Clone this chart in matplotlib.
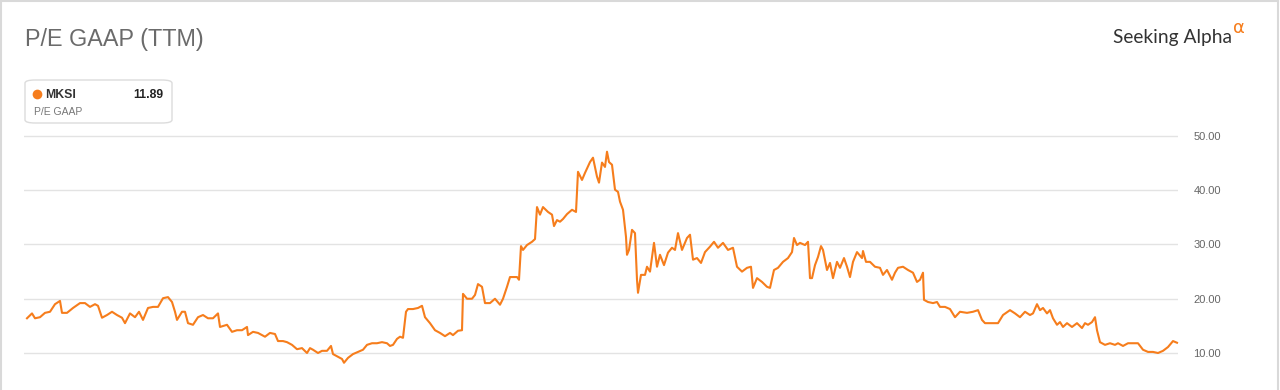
import matplotlib
matplotlib.use("Agg")
import matplotlib.pyplot as plt
from matplotlib.patches import FancyBboxPatch
from matplotlib.lines import Line2D

# ---- data ----
ticker = "MKSI"
last_value = "11.89"
title = "P/E GAAP (TTM)"
metric = "P/E GAAP"
yticks = [10, 20, 30, 40, 50]

days = [27, 32, 35, 40, 45, 50, 55, 60, 62, 67, 73, 80, 85, 90, 95, 98, 102, 107, 112, 117,
        122, 125, 130, 135, 139, 143, 148, 153, 158, 163, 168, 172, 175, 177, 182, 185, 188, 193, 198, 203,
        208, 213, 218, 220, 227, 232, 237, 242, 247, 248, 253, 258, 265, 270, 275, 278, 283, 287, 292, 297,
        302, 307, 310, 313, 318, 322, 327, 331, 333, 338, 342, 344, 348, 353, 358, 363, 367, 372, 377, 382,
        387, 390, 393, 397, 400, 403, 406, 408, 413, 418, 422, 425, 430, 435, 440, 445, 450, 453, 458, 462,
        463, 467, 472, 475, 478, 482, 485, 490, 495, 500, 503, 507, 510, 517, 519, 521, 523, 527, 532, 535,
        537, 540, 543, 548, 552, 554, 557, 560, 563, 567, 572, 576, 578, 582, 585, 590, 593, 597, 599, 602,
        605, 607, 609, 612, 615, 618, 620, 623, 626, 627, 629, 632, 635, 637, 638, 641, 645, 647, 650, 654,
        657, 660, 664, 668, 672, 675, 678, 682, 687, 690, 693, 697, 701, 705, 710, 714, 718, 723, 728, 733,
        737, 742, 747, 751, 753, 757, 762, 767, 770, 774, 778, 783, 788, 792, 794, 797, 800, 805, 808, 810,
        812, 815, 818, 821, 823, 827, 830, 833, 837, 840, 844, 847, 850, 853, 857, 862, 863, 866, 870, 875,
        880, 883, 887, 892, 895, 898, 903, 908, 913, 917, 920, 923, 924, 928, 933, 937, 940, 945, 950, 955,
        960, 967, 973, 978, 982, 985, 990, 995, 998, 1003, 1010, 1015, 1020, 1025, 1030, 1033, 1037, 1040, 1043, 1047,
        1050, 1053, 1057, 1060, 1063, 1067, 1072, 1077, 1082, 1085, 1088, 1092, 1095, 1097, 1100, 1105, 1110, 1115, 1118, 1123,
        1128, 1133, 1138, 1143, 1148, 1153, 1158, 1163, 1168, 1173, 1177]

pe = [16.4, 17.3, 16.4, 16.6, 17.4, 17.6, 19.0, 19.6, 17.4, 17.4, 18.3, 19.2, 19.2, 18.5, 19.0, 18.7, 16.5, 17.0, 17.6, 17.0,
      16.5, 15.5, 17.3, 16.6, 17.6, 16.1, 18.3, 18.5, 18.5, 20.1, 20.3, 19.4, 17.6, 16.1, 17.6, 17.6, 15.5, 15.2, 16.6, 17.0,
      16.4, 16.4, 17.3, 14.8, 15.2, 13.9, 14.2, 14.2, 14.8, 13.3, 13.9, 13.7, 13.0, 13.7, 13.5, 12.2, 12.2, 12.0, 11.5, 10.7,
      10.9, 10.0, 10.9, 10.6, 10.0, 10.4, 10.4, 11.3, 9.8, 9.3, 8.9, 8.2, 9.1, 9.8, 10.2, 10.6, 11.5, 11.8, 11.8, 12.0,
      11.8, 11.3, 11.5, 12.6, 13.0, 12.8, 17.6, 18.1, 18.1, 18.3, 18.7, 16.6, 15.5, 14.2, 13.7, 13.1, 13.7, 13.3, 14.1, 14.2,
      20.9, 20.0, 20.0, 20.7, 22.7, 22.2, 19.2, 19.2, 20.0, 18.9, 20.0, 22.2, 24.0, 24.0, 23.5, 29.7, 29.0, 29.9, 30.5, 31.0,
      36.9, 35.5, 36.9, 36.0, 35.5, 33.4, 34.5, 34.2, 34.7, 35.6, 36.4, 36.0, 43.4, 41.9, 43.2, 45.2, 46.0, 42.5, 41.4, 45.1,
      44.3, 47.1, 45.2, 44.7, 40.1, 39.7, 37.9, 36.4, 31.4, 28.1, 29.0, 32.7, 32.1, 23.5, 21.1, 24.4, 24.4, 25.9, 25.0, 30.3,
      25.9, 28.1, 26.2, 28.5, 29.4, 29.0, 32.1, 29.0, 31.2, 31.8, 27.2, 27.5, 26.6, 28.6, 29.6, 30.5, 29.4, 30.3, 29.0, 29.4,
      25.9, 25.0, 25.7, 25.9, 22.0, 23.8, 23.1, 22.2, 22.0, 25.3, 25.7, 26.8, 27.5, 28.6, 31.2, 29.9, 30.3, 29.9, 30.5, 23.8,
      23.8, 26.2, 27.7, 29.7, 29.0, 25.3, 26.6, 23.8, 26.8, 25.7, 27.5, 25.9, 24.0, 26.8, 28.6, 27.5, 28.8, 26.8, 26.8, 25.9,
      25.7, 24.4, 25.3, 23.5, 24.8, 25.7, 25.9, 25.3, 24.8, 23.1, 23.5, 24.8, 19.8, 19.4, 19.2, 19.4, 18.5, 18.5, 18.1, 16.6,
      17.6, 17.4, 17.6, 17.9, 16.1, 15.5, 15.5, 15.5, 15.5, 17.0, 17.9, 17.3, 16.6, 17.6, 17.0, 17.3, 19.0, 17.9, 18.3, 17.3,
      17.9, 16.4, 15.2, 15.7, 14.8, 15.5, 14.8, 15.5, 14.6, 15.5, 15.2, 15.7, 16.6, 14.2, 12.0, 11.5, 11.8, 11.5, 11.8, 11.3,
      11.8, 11.8, 11.8, 10.6, 10.2, 10.2, 10.0, 10.4, 11.1, 12.2, 11.89]

# ---- style ----
ORANGE = "#f67d1c"
GRID = "#e3e3e3"
plt.rcParams["font.family"] = ["Liberation Sans", "DejaVu Sans"]

W, H = 1280, 390
fig = plt.figure(figsize=(W / 100, H / 100), dpi=100)
fig.patch.set_facecolor("white")

def fx(px):
    return px / W

def fy(py):
    return 1 - py / H

# outer frame
for xs, ys in [([fx(1), fx(1278)], [fy(1), fy(1)]),
               ([fx(1), fx(1)], [fy(1), fy(390)]),
               ([fx(1278), fx(1278)], [fy(1), fy(390)])]:
    fig.add_artist(Line2D(xs, ys, color="#d9d9d9", lw=1.5))

# axes
ymin, ymax = 6, 50.5
ppu = (353 - 136) / 40.0
top_px = 136 - (ymax - 50) * ppu
bot_px = 353 + (10 - ymin) * ppu
ax = fig.add_axes([fx(24), fy(bot_px), fx(1178) - fx(24), fy(top_px) - fy(bot_px)])
ax.plot(days, pe, color=ORANGE, lw=1.5, solid_joinstyle="round", clip_on=False, zorder=3)
ax.set_xlim(24, 1178)
ax.set_ylim(ymin, ymax)
ax.set_yticks(yticks)
ax.set_yticklabels([f"{v:.2f}" for v in yticks])
ax.yaxis.tick_right()
ax.tick_params(axis="y", length=0, pad=11, labelsize=8, labelcolor="#666666")
ax.set_xticks([])
ax.grid(axis="y", color=GRID, lw=1.0)
ax.set_axisbelow(True)
for s in ax.spines.values():
    s.set_visible(False)

# title
fig.text(fx(25), fy(46), title, fontsize=16.8, color="#6b6b6b", va="baseline", ha="left")

# brand
fig.text(fx(1232), fy(42.5), "Seeking Alpha", fontsize=13.8, color="#333333",
         va="baseline", ha="right", family=["Lato", "DejaVu Sans"])
fig.text(fx(1233), fy(33), "α", fontsize=13, color=ORANGE, va="baseline", ha="left",
         family=["DejaVu Sans"])

# legend card
card = FancyBboxPatch((fx(25), fy(123)), fx(172) - fx(25), fy(80) - fy(123),
                      boxstyle="round,pad=0,rounding_size=0.008", transform=fig.transFigure,
                      facecolor="white", edgecolor="#dcdcdc", lw=1.0)
fig.add_artist(card)
fig.add_artist(Line2D([fx(36.5)], [fy(94)], marker="o", markersize=7, color=ORANGE,
                      markeredgewidth=0, transform=fig.transFigure))
fig.text(fx(45), fy(98.5), ticker, fontsize=8.8, fontweight="bold", color="#333333",
         va="baseline", ha="left")
fig.text(fx(163), fy(98.5), last_value, fontsize=8.8, fontweight="bold", color="#222222",
         va="baseline", ha="right")
fig.text(fx(34), fy(115), metric, fontsize=7.5, color="#777777", va="baseline", ha="left")

fig.savefig("out.png", dpi=100, facecolor="white")
